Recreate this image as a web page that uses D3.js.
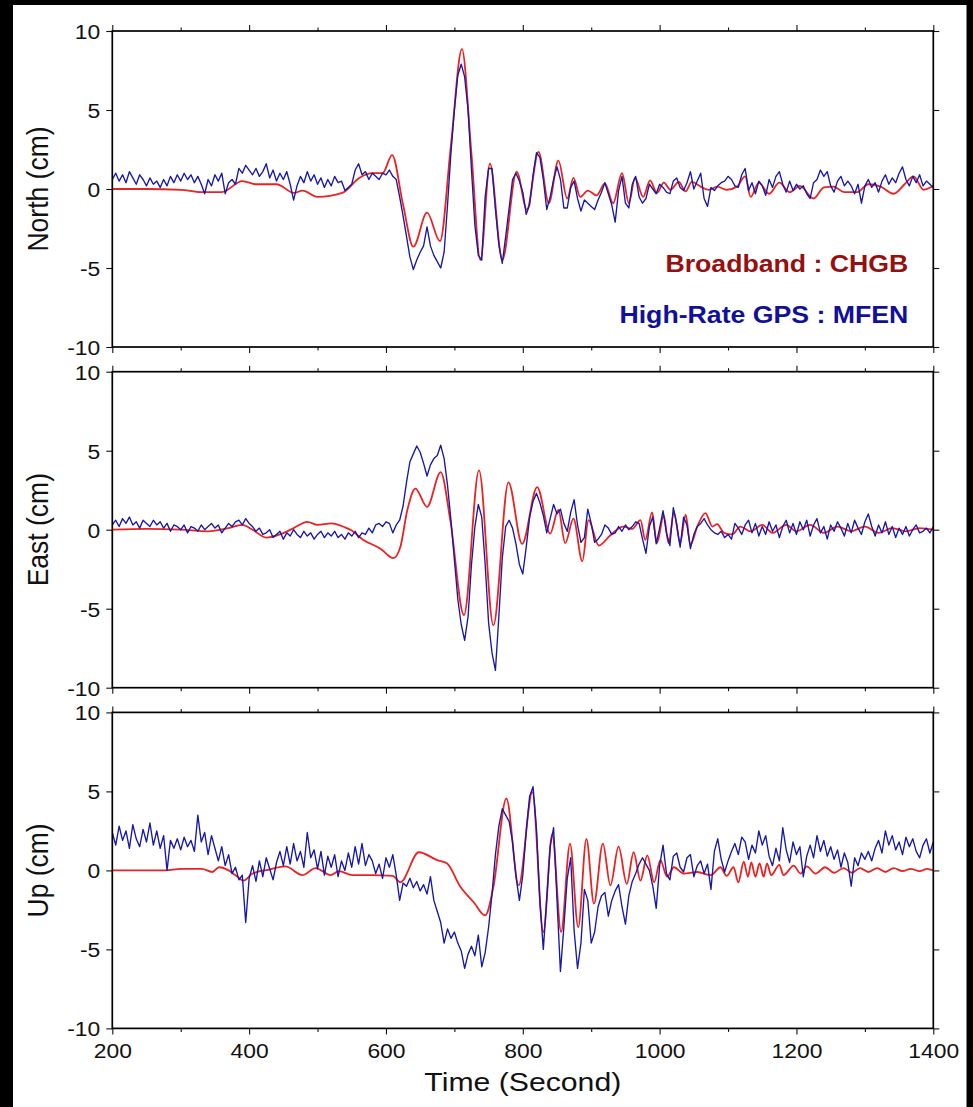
<!DOCTYPE html>
<html>
<head>
<meta charset="utf-8">
<script src="https://cdn.jsdelivr.net/npm/d3@7"></script>
<style>
  html, body { margin: 0; padding: 0; background: #000; }
  svg { display: block; }
  text { font-family: "Liberation Sans", Arial, Helvetica, sans-serif; }
</style>
</head>
<body>
<svg id="chart" width="973" height="1107"></svg>
<script>
// ---- Sampling grid of the high-rate GPS records (seconds) ----
const GPS_START = 200;
const GPS_STEP = 5;

// ---- High-rate GPS displacement (cm), station MFEN, one value per 5 s ----
const gpsNorth = [
  0.6, 1.0, 0.5, 0.9, 0.4, 1.1, 0.7, 0.3, 0.9, 0.6,
  0.2, 0.7, 0.3, 0.5, 0.1, 0.6, 0.2, 0.8, 0.4, 0.9,
  0.5, 1.0, 0.6, 0.9, 0.4, 0.8, 0.3, -0.3, 0.6, 0.2,
  0.9, 0.5, 1.0, -0.3, 0.4, 0.6, 0.3, 1.3, 1.0, 1.5,
  1.2, 0.9, 1.3, 0.8, 1.1, 1.6, 0.7, 1.2, 0.5, 1.0,
  0.6, 1.1, 0.3, -0.7, 0.2, 0.8, 0.4, 1.1, 0.5, 0.9,
  0.3, 0.7, 0.1, 0.6, 0.2, 0.8, 0.4, 0.5, -0.1, 0.1,
  0.3, 1.2, 1.6, 0.9, 1.1, 0.6, 1.0, 0.8, 0.6, 1.0,
  0.9, 1.2, 0.8, 0.6, -0.5, -1.7, -3.0, -4.3, -5.1, -4.5,
  -4.0, -3.6, -2.4, -3.6, -4.2, -4.6, -5.0, -4.0, -1.0, 2.3,
  5.0, 7.2, 7.9, 7.1, 5.0, 1.2, -2.3, -4.2, -4.5, -0.5,
  1.3, 1.3, -1.3, -3.5, -4.7, -3.0, -1.2, 0.6, 1.0, 0.5,
  -0.2, -1.6, -1.0, 0.9, 2.3, 2.0, 0.6, -1.3, -0.5, 0.6,
  1.4, 0.6, -1.2, -1.2, 0.1, 0.5, -0.6, -1.4, -0.7, -0.9,
  -1.1, -1.3, -0.7, -0.2, 0.4, -0.3, -1.0, -2.1, -0.1, 0.8,
  -0.9, -1.2, 0.3, 0.8, -0.5, -0.9, -0.6, 0.3, 0.0, -0.3,
  0.3, 0.1, -0.2, -0.3, 0.5, 0.7, 0.1, -0.1, 0.4, 1.1,
  0.0, 0.5, 1.0, -0.6, -1.1, 0.1, -0.1, 0.2, 0.4, 0.5,
  0.8, 0.6, 0.2, 0.1, 0.9, 1.3, -0.1, 0.4, -0.3, 0.5,
  0.2, -0.4, 0.6, 0.1, 0.8, 1.1, 0.3, -0.2, 0.5, -0.1,
  0.3, 0.0, 0.2, -0.3, -0.6, 0.4, 0.6, 1.2, 0.8, 1.1,
  0.2, -0.2, 0.5, 0.8, 0.2, 0.5, 0.2, -0.3, 0.3, -0.9,
  0.2, 0.6, 0.1, 0.4, -0.2, 0.5, 0.9, 0.3, 0.7, 0.4,
  1.0, 1.4, 0.6, 0.2, 0.8, 0.4, 0.9, 0.2, 0.5, 0.3,
  0.1
];

const gpsEast = [
  0.3, 0.6, 0.2, 0.7, 0.4, 0.8, 0.3, 0.5, 0.1, 0.6,
  0.4, 0.2, 0.6, 0.3, 0.5, 0.1, 0.4, -0.1, 0.3, 0.2,
  0.0, 0.3, -0.2, 0.2, 0.1, -0.1, 0.3, 0.0, 0.2, 0.4,
  0.1, 0.3, -0.2, 0.1, 0.4, 0.2, 0.5, 0.6, 0.3, 0.7,
  0.4, 0.2, -0.1, 0.1, -0.3, -0.2, 0.0, -0.5, -0.3, -0.1,
  -0.6, -0.2, -0.4, 0.0, -0.3, -0.5, -0.1, -0.4, -0.2, -0.6,
  -0.3, -0.1, -0.5, -0.2, -0.4, -0.1, -0.5, -0.3, -0.6, -0.2,
  -0.4, -0.1, -0.5, -0.2, -0.3, 0.1, -0.2, 0.3, 0.4, 0.2,
  0.5, 0.4, -0.2, 0.3, 0.6, 1.5, 3.0, 4.3, 4.8, 5.3,
  4.9, 4.2, 3.4, 4.1, 4.5, 4.7, 5.35, 4.5, 2.8, 0.6,
  -1.9, -4.4, -6.0, -7.0, -5.5, -2.2, 0.2, 1.6, 0.8, -2.2,
  -5.9, -7.8, -8.9, -5.5, -1.8, 0.2, 0.6, 0.1, -0.9, -2.2,
  -2.8, -1.1, 0.8, 1.8, 2.3, 1.7, 0.9, -0.2, 0.7, 1.6,
  1.0, 1.3, 0.4, -0.1, 1.1, 1.9, 0.3, -0.8, -0.5, 1.3,
  0.4, -0.8, -0.6, -0.3, 0.3, 0.1, -0.3, -0.2, 0.2, -0.1,
  0.3, 0.0, 0.2, 0.5, 0.4, -0.6, -1.5, 0.2, 0.8, -0.9,
  0.1, 1.2, -0.2, -1.0, 1.4, 0.3, -1.1, 0.8, 0.3, -1.2,
  -0.3, 0.2, 0.4, 0.7, 0.3, 0.0, -0.2, -0.3, -0.1, -0.5,
  -0.3, -0.6, 0.4, 0.1, -0.3, 0.3, 0.6, -0.2, 0.4, -0.4,
  0.2, -0.3, 0.5, -0.1, 0.3, -0.5, 0.2, 0.6, -0.2, 0.4,
  -0.3, 0.5, 0.0, 0.6, -0.4, 0.3, 0.7, -0.2, 0.2, -0.6,
  0.3, -0.1, 0.5, 0.1, -0.4, 0.4, -0.2, 0.6, 0.1, -0.3,
  0.5, 1.0, 0.2, -0.4, 0.3, -0.2, 0.5, -0.3, 0.2, -0.5,
  0.1, -0.3, 0.2, -0.4, 0.0, 0.3, -0.2, -0.1, 0.1, -0.2,
  0.2
];

const gpsUp = [
  2.4, 1.6, 2.8, 1.9, 2.5, 1.4, 2.9, 2.0, 1.5, 2.6,
  1.8, 3.0, 1.6, 2.5, 1.4, 2.2, 0.0, 1.9, 1.4, 2.0,
  1.3, 2.1, 1.5, 1.9, 1.2, 3.5, 1.8, 2.4, 1.0, 2.2,
  1.4, 0.6, 1.5, 0.3, 1.0, -0.2, 0.2, -0.6, -0.3, -3.3,
  -0.5, 0.3, -0.7, 0.6, -0.4, 0.8, 0.1, -0.6, 0.5, 1.2,
  0.3, 1.5, 0.4, 1.7, 0.6, 1.2, 0.2, 2.4, 0.8, 1.3,
  0.1, 1.2, -0.3, 0.9, 0.2, 1.0, -0.4, 0.6, 0.0, 1.1,
  0.2, 1.5, 0.4, 1.7, 0.3, 1.0, 0.6, -0.2, 0.4, -0.5,
  0.8, 0.2, 1.0, -0.3, -1.9, -0.8, -1.0, -0.5, -1.1, -0.7,
  -1.3, -0.9, -1.5, -0.4, -1.9, -2.6, -3.3, -4.6, -3.7, -4.3,
  -3.9, -4.6, -5.1, -6.2, -5.3, -4.8, -5.4, -4.1, -6.1, -5.2,
  -3.6, -1.5, 1.0, 2.8, 3.9, 3.5, 3.1, 1.8, -0.4, -1.9,
  -0.3, 2.5, 4.7, 5.3, 2.6, -2.0, -5.0, -1.8, 1.5, 2.7,
  -1.9, -6.4, -3.6, -0.5, 0.8, -3.8, -6.2, -4.6, -1.2, -1.9,
  -4.6, -3.9, -2.3, -1.6, -1.4, -2.9, -1.9, -1.3, -0.9, -2.3,
  -3.4, -1.6, -0.7, -0.2, 0.4, 0.8, 0.4, 0.0, -1.0, -2.4,
  0.3, 1.6, -0.2, -0.6, 0.9, 1.1, 0.2, -0.1, 0.8, 1.0,
  -0.4, 0.3, 0.6, -0.2, 0.4, -1.2, 1.2, 2.0, 0.7, -0.1,
  0.6, 1.2, 1.7, 1.0, 2.1, 1.8, 0.7, 1.6, 1.1, 2.5,
  1.6, 2.2, 0.9, 0.3, 1.4, 0.6, 2.7, 1.3, 0.5, 1.8,
  1.0, 1.5, -0.4, 0.9, 1.6, 0.8, 2.2, 1.2, 1.9, 0.9,
  1.5, 0.7, 1.3, 0.2, 1.1, 0.5, -1.0, 0.8, 0.3, 1.1,
  0.7, 1.2, 0.6, 1.4, 1.9, 1.1, 2.5, 1.6, 2.2, 1.3,
  1.8, 1.0, 2.1, 1.5, 2.0, 1.2, 0.8, 1.6, 2.0, 1.1,
  1.8
];

// ---- Broadband displacement (cm), station CHGB: turning points of the trace ----
const bbNorthTime = [200, 250, 300, 330, 360, 390, 410, 440, 466, 478, 500, 536, 561, 580, 595,
  609, 625, 640, 660, 679, 695, 711, 725, 738, 752, 770, 791, 806, 823, 838, 852, 865, 874, 884,
  895, 908, 920, 932, 945, 955, 964, 976, 986, 996, 1006, 1016, 1028, 1038, 1047, 1060, 1072,
  1084, 1098, 1113, 1125, 1133, 1145, 1160, 1175, 1190, 1205, 1225, 1240, 1254, 1270, 1289,
  1305, 1323, 1342, 1358, 1371, 1386, 1400];
const bbNorthValue = [0, 0, -0.05, -0.2, -0.2, 0.5, 0.3, 0.3, -0.25, -0.1, -0.5, -0.25, 0.7, 1.0, 1.0,
  2.15, -1.0, -3.65, -1.5, -3.3, 2.8, 8.85, 2.2, -4.5, 1.6, -4.5, 1.1, -1.3, 2.35, -0.9, 1.8, -0.6,
  0.7, -0.5, -0.1, -0.4, 0.35, -0.9, 1.0, -0.9, 0.7, -0.5, 0.55, -0.25, 0.4, -0.05, 0.45, -0.15,
  0.45, 0.15, -0.05, 0.15, -0.05, 0.15, 0.8, -0.5, 0.4, -0.3, 0.4, -0.2, 0.2, -0.6, 0.1, 0.15,
  -0.2, -0.2, 0.3, 0.15, -0.3, 0.3, 0.8, -0.05, 0.2];

const bbEastTime = [200, 250, 300, 340, 370, 390, 405, 425, 445, 465, 485, 500, 520, 540, 548,
  567, 592, 611, 621, 631, 643, 660, 680, 694, 714, 736, 757, 779, 799, 821, 840, 852, 862, 874,
  887, 896, 911, 928, 947, 960, 972, 979, 989, 996, 1006, 1013, 1021, 1030, 1038, 1045, 1055,
  1067, 1077, 1084, 1094, 1106, 1118, 1133, 1150, 1165, 1185, 1200, 1220, 1240, 1260, 1280,
  1300, 1320, 1340, 1360, 1380, 1400];
const bbEastValue = [0, 0.05, 0, -0.1, 0.1, 0.3, 0.0, -0.5, -0.3, 0.1, 0.5, 0.3, 0.4, 0.15, 0,
  -0.65, -1.2, -1.8, -1.1, 1.2, 2.6, 1.45, 3.65, 0.6, -5.4, 3.75, -6.05, 3.0, -0.9, 2.7, -0.25,
  1.25, -0.85, 0.7, -2.0, 0.6, -1.0, -0.35, 0.2, 0.05, 0.6, -0.65, 1.1, -0.85, 0.9, -0.85, 1.1,
  -0.85, 0.95, -0.95, 0.2, 1.05, 0.2, 0.35, -0.2, -0.3, 0.2, -0.1, 0.3, -0.2, 0.3, -0.1, 0.3,
  -0.2, 0.2, -0.1, 0.2, -0.2, 0.1, -0.1, 0.1, 0];

const bbUpTime = [200, 278, 300, 331, 346, 356, 368, 380, 392, 405, 429, 453, 478, 497, 519, 531,
  551, 580, 610, 621, 648, 675, 689, 709, 728, 745, 757, 776, 794, 814, 830, 843, 856, 869, 881,
  893, 904, 917, 928, 940, 952, 962, 972, 982, 992, 1001, 1011, 1021, 1035, 1055, 1075, 1089,
  1098, 1108, 1115, 1123, 1129, 1134, 1140, 1146, 1152, 1157, 1163, 1175, 1181, 1196, 1206, 1215,
  1228, 1242, 1255, 1269, 1281, 1293, 1305, 1318, 1330, 1342, 1355, 1367, 1380, 1391, 1400];
const bbUpValue = [0, 0, 0.1, 0.1, -0.1, 0.2, 0.05, -0.3, -0.65, -0.2, 0.05, 0.25, -0.3, 0.15, -0.3,
  -0.05, -0.3, -0.3, -0.35, -0.75, 1.15, 0.65, 0.45, -1.05, -2.0, -2.85, -1.05, 4.55, -0.95, 4.95,
  -3.9, 2.3, -3.9, 1.7, -3.6, 2.0, -2.1, 1.7, -0.95, 1.5, -0.85, 1.15, -0.65, 0.95, -0.75, 0.65,
  -0.4, 0.2, -0.2, -0.1, -0.3, 0.2, -0.35, 0.2, -0.75, 0.55, -0.4, 0.5, -0.4, 0.45, -0.4, 0.45,
  -0.3, 0.35, -0.3, 0.3, -0.2, 0.25, -0.2, 0.2, -0.15, 0.15, -0.15, 0.15, -0.1, 0.15, -0.1, 0.15,
  -0.05, 0.1, -0.05, 0.1, 0];

// ---- Axis ticks and labels ----
const panelTitles = ["North (cm)", "East (cm)", "Up (cm)"];
const yTicks = [-10, -5, 0, 5, 10];
const xMajorTicks = [200, 400, 600, 800, 1000, 1200, 1400];
const xMinorTicks = [300, 500, 700, 900, 1100, 1300];
const xTitle = "Time (Second)";
const legendLabels = ["Broadband : CHGB", "High-Rate GPS : MFEN"];

// ---- Layout ----
const W = 973, H = 1107;
const frameLeft = 112.3, frameRight = 933.3;
const panelHeight = 316;
const panelTops = [31, 371.7, 712.4];
const tickStretch = 1.09;    // glyphs in this figure are slightly wide
const titleStretch = 1.14;
const legendStretch = 1.16;

const colBroadband = "#ea2222";
const colGps = "#1717a8";
const colBroadbandText = "#961010";
const colGpsText = "#10109a";

const svg = d3.select("#chart");

svg.append("rect")
  .attr("x", 13).attr("y", 5)
  .attr("width", 953.5).attr("height", H - 5)
  .attr("fill", "#ffffff");

const x = d3.scaleLinear().domain([200, 1400]).range([frameLeft, frameRight]);

const panels = [
  { gps: gpsNorth, bbT: bbNorthTime, bbV: bbNorthValue },
  { gps: gpsEast,  bbT: bbEastTime,  bbV: bbEastValue },
  { gps: gpsUp,    bbT: bbUpTime,    bbV: bbUpValue }
];

panels.forEach((p, i) => {
  const top = panelTops[i];
  const bottom = top + panelHeight;
  const y = d3.scaleLinear().domain([-10, 10]).range([bottom, top]);
  const g = svg.append("g");

  const clipId = "clip" + i;
  svg.append("clipPath").attr("id", clipId)
    .append("rect")
    .attr("x", frameLeft).attr("y", top)
    .attr("width", frameRight - frameLeft).attr("height", panelHeight);

  const traces = g.append("g").attr("clip-path", `url(#${clipId})`);

  // broadband trace: smooth curve through its turning points
  const bbPts = p.bbT.map((t, k) => [t, p.bbV[k]]);
  traces.append("path")
    .datum(bbPts)
    .attr("fill", "none")
    .attr("stroke", colBroadband)
    .attr("stroke-width", 1.8)
    .attr("stroke-linejoin", "round")
    .attr("d", d3.line().x(d => x(d[0])).y(d => y(d[1])).curve(d3.curveMonotoneX));

  // high-rate GPS trace: straight segments between samples
  const gpsPts = p.gps.map((v, k) => [GPS_START + k * GPS_STEP, v]);
  traces.append("path")
    .datum(gpsPts)
    .attr("fill", "none")
    .attr("stroke", colGps)
    .attr("stroke-width", 1.35)
    .attr("stroke-linejoin", "round")
    .attr("d", d3.line().x(d => x(d[0])).y(d => y(d[1])));

  // ticks on all four sides, pointing outward
  const axes = g.append("g").attr("class", "axes");
  const styleAxis = sel => {
    sel.select(".domain").remove();
    sel.selectAll("line").attr("stroke", "#111").attr("stroke-width", 1.1);
  };

  axes.append("g").attr("transform", `translate(0,${top})`)
    .call(d3.axisTop(x).tickValues(xMajorTicks).tickSize(6).tickFormat(""))
    .call(styleAxis);
  axes.append("g").attr("transform", `translate(0,${top})`)
    .call(d3.axisTop(x).tickValues(xMinorTicks).tickSize(3.5).tickFormat(""))
    .call(styleAxis);

  const bottomAxis = d3.axisBottom(x).tickValues(xMajorTicks).tickSize(6);
  if (i === 2) {
    bottomAxis.tickFormat(d => String(d)).tickPadding(9);
  } else {
    bottomAxis.tickFormat("");
  }
  const bAx = axes.append("g").attr("transform", `translate(0,${bottom})`)
    .call(bottomAxis).call(styleAxis);
  bAx.selectAll("text")
    .attr("font-size", 21)
    .attr("fill", "#111")
    .attr("font-family", '"Liberation Sans", Arial, sans-serif')
    .attr("transform", `scale(${tickStretch},1)`);
  axes.append("g").attr("transform", `translate(0,${bottom})`)
    .call(d3.axisBottom(x).tickValues(xMinorTicks).tickSize(3.5).tickFormat(""))
    .call(styleAxis);

  const lAx = axes.append("g").attr("transform", `translate(${frameLeft},0)`)
    .call(d3.axisLeft(y).tickValues(yTicks).tickSize(6).tickPadding(5).tickFormat(d => String(d)))
    .call(styleAxis);
  lAx.selectAll("text")
    .attr("font-size", 21)
    .attr("fill", "#111")
    .attr("font-family", '"Liberation Sans", Arial, sans-serif')
    .attr("dy", "0.36em")
    .attr("transform", `scale(${tickStretch},1)`);

  axes.append("g").attr("transform", `translate(${frameRight},0)`)
    .call(d3.axisRight(y).tickValues(yTicks).tickSize(6).tickFormat(""))
    .call(styleAxis);

  // frame
  g.append("rect")
    .attr("x", frameLeft).attr("y", top)
    .attr("width", frameRight - frameLeft).attr("height", panelHeight)
    .attr("fill", "none")
    .attr("stroke", "#000")
    .attr("stroke-width", 1.7);

  // component title
  g.append("text")
    .attr("transform", `translate(48,${(top + bottom) / 2}) scale(${titleStretch},1) rotate(-90)`)
    .attr("text-anchor", "middle")
    .attr("font-size", 26.5)
    .attr("fill", "#111")
    .text(panelTitles[i]);
});

// time axis title
svg.append("text")
  .attr("transform", `translate(${(frameLeft + frameRight) / 2},1091) scale(${titleStretch},1)`)
  .attr("text-anchor", "middle")
  .attr("font-size", 26.5)
  .attr("fill", "#111")
  .text(xTitle);

// legend, right-aligned inside the North panel
const legendColors = [colBroadbandText, colGpsText];
const legendBaselines = [271.7, 322.7];
legendLabels.forEach((label, k) => {
  svg.append("text")
    .attr("transform", `translate(908.3,${legendBaselines[k]}) scale(${legendStretch},1)`)
    .attr("text-anchor", "end")
    .attr("font-size", 23)
    .attr("font-weight", "bold")
    .attr("fill", legendColors[k])
    .text(label);
});
</script>
</body>
</html>
